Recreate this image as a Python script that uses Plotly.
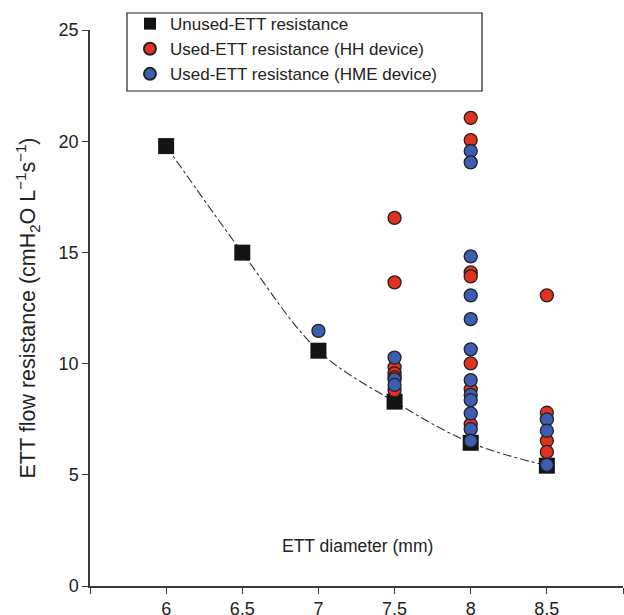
import plotly.graph_objects as go

# ETT internal diameters (mm)
diameters = [6, 6.5, 7, 7.5, 8, 8.5]
# Resistance of unused tubes (cmH2O L^-1 s^-1)
unused_res = [19.78, 14.99, 10.58, 8.29, 6.44, 5.41]

# Used tubes, heated humidifier (HH)
hh_diam = [7.5, 7.5, 7.5, 7.5, 7.5, 7.5,
           8, 8, 8, 8, 8, 8, 8,
           8.5, 8.5, 8.5, 8.5]
hh_res = [16.55, 13.65, 9.83, 9.56, 9.38, 8.8,
          21.05, 20.05, 14.1, 13.92, 10.01, 8.84, 7.27,
          13.07, 7.79, 6.53, 6.03]

# Used tubes, heat and moisture exchanger (HME)
hme_diam = [7,
            7.5, 7.5, 7.5,
            8, 8, 8, 8, 8, 8, 8, 8, 8, 8, 8, 8,
            8.5, 8.5, 8.5]
hme_res = [11.47,
           10.27, 9.29, 9.04,
           19.56, 19.05, 14.82, 13.07, 12.0, 10.64, 9.26, 8.59, 8.36, 7.76, 7.05, 6.53,
           7.49, 6.98, 5.45]

x_tickvals = [5.5, 6, 6.5, 7, 7.5, 8, 8.5, 9]
x_ticktext = ["", "6", "6.5", "7", "7.5", "8", "8.5", ""]
y_tickvals = [0, 5, 10, 15, 20, 25]

FONT = "Liberation Sans, Arial, sans-serif"
AXIS_COLOR = "#3a3a3a"

fig = go.Figure()

# dash-dot trend through the unused-tube values
fig.add_trace(go.Scatter(
    x=diameters, y=unused_res, mode="lines",
    line=dict(color="#333333", width=1.1, dash="dashdot", shape="spline"),
    showlegend=False, hoverinfo="skip",
))

fig.add_trace(go.Scatter(
    x=diameters, y=unused_res, mode="markers",
    name="Unused-ETT resistance",
    marker=dict(symbol="square", size=16, color="#141414",
                line=dict(width=0)),
))

fig.add_trace(go.Scatter(
    x=hh_diam, y=hh_res, mode="markers",
    name="Used-ETT resistance (HH device)",
    marker=dict(symbol="circle", size=13, color="#e2311f",
                line=dict(color="#222222", width=1.3)),
))

fig.add_trace(go.Scatter(
    x=hme_diam, y=hme_res, mode="markers",
    name="Used-ETT resistance (HME device)",
    marker=dict(symbol="circle", size=13, color="#3d5db3",
                line=dict(color="#222222", width=1.3)),
))

# legend frame
fig.add_shape(
    type="rect", xref="paper", yref="paper",
    x0=0.0694, x1=0.7355, y0=0.8903, y1=1.0306,
    line=dict(color="#222222", width=1.2), fillcolor="rgba(0,0,0,0)",
    layer="above",
)

# x-axis caption sits inside the plotting area
fig.add_annotation(
    text="ETT diameter (mm)", xref="paper", yref="paper",
    x=0.501, y=0.072, xanchor="center", yanchor="middle", showarrow=False,
    font=dict(family=FONT, size=17.5, color="#222222"),
)

fig.update_layout(
    width=624, height=615,
    margin=dict(l=90, r=1, t=30, b=29),
    paper_bgcolor="white", plot_bgcolor="white",
    font=dict(family=FONT, size=18, color="#222222"),
    legend=dict(
        x=0.075, y=1.043, xanchor="left", yanchor="top",
        bgcolor="rgba(0,0,0,0)", borderwidth=0,
        font=dict(family=FONT, size=17, color="#222222"),
        tracegroupgap=0, itemsizing="constant",
    ),
    xaxis=dict(
        range=[5.5, 9], tickvals=x_tickvals, ticktext=x_ticktext,
        showgrid=False, zeroline=False, automargin=False,
        showline=True, linecolor=AXIS_COLOR, linewidth=1.5,
        ticks="outside", ticklen=6, tickwidth=1.3, tickcolor=AXIS_COLOR,
        tickfont=dict(family=FONT, size=18, color="#222222"),
    ),
    yaxis=dict(
        range=[0, 25], tickvals=y_tickvals,
        showgrid=False, zeroline=False, automargin=False,
        showline=True, linecolor=AXIS_COLOR, linewidth=1.5,
        ticks="outside", ticklen=6, tickwidth=1.3, tickcolor=AXIS_COLOR,
        tickfont=dict(family=FONT, size=18, color="#222222"),
        title=dict(
            text="ETT flow resistance (cmH<sub>2</sub>O L<sup>\u22121</sup>s<sup>\u22121</sup>)",
            font=dict(family=FONT, size=21.5, color="#222222"),
            standoff=17,
        ),
    ),
)

fig.write_html("out.html")
